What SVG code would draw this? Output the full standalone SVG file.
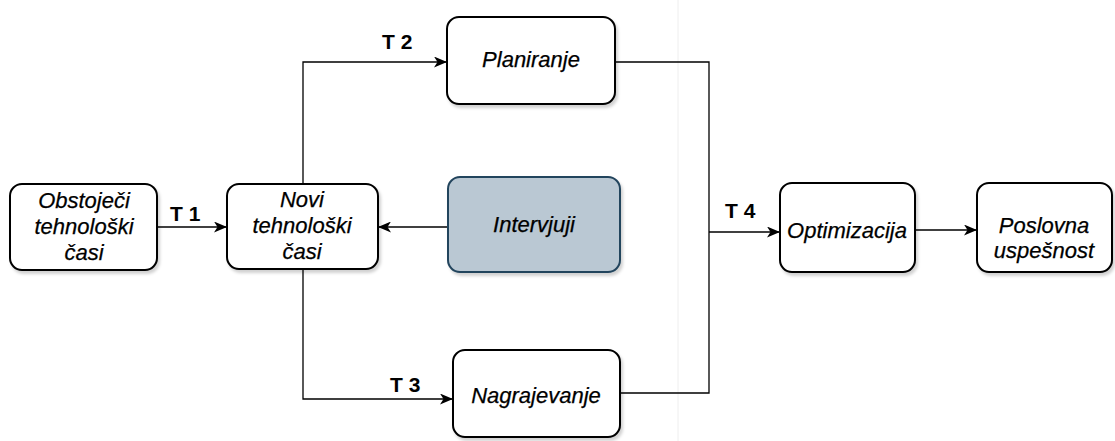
<svg xmlns="http://www.w3.org/2000/svg" width="1115" height="441" viewBox="0 0 1115 441">
<style>
.box{fill:#ffffff;stroke:#000000;stroke-width:2;filter:url(#sh)}
.blue{fill:#bac8d3;stroke:#23445d;stroke-width:2;filter:url(#sh)}
.t{font-family:"Liberation Sans",Arial,sans-serif;font-style:italic;font-size:22px;fill:#000;text-anchor:middle;stroke:#000;stroke-width:0.25}
.lbl{font-family:"Liberation Sans",Arial,sans-serif;font-weight:bold;font-size:21px;fill:#000}
.c{fill:none;stroke:#000;stroke-width:1.3}
</style>
<defs>
<filter id="sh" x="-10%" y="-10%" width="130%" height="130%">
<feDropShadow dx="2" dy="3" stdDeviation="1.5" flood-color="#000" flood-opacity="0.18"/>
</filter>
<marker id="ar" markerWidth="13" markerHeight="11" refX="12" refY="5.5" orient="auto" markerUnits="userSpaceOnUse">
<path d="M0,0 L13,5.5 L0,11 L3.5,5.5 Z" fill="#000"/>
</marker>
</defs>
<rect width="1115" height="441" fill="#ffffff"/>
<line x1="678" y1="0" x2="678" y2="441" stroke="#eeeeee" stroke-width="1"/>
<g id="connectors">
<path class="c" d="M157,227 L226,227" marker-end="url(#ar)"/>
<path class="c" d="M448,227 L379,227" marker-end="url(#ar)"/>
<path class="c" d="M303,184 L303,62 L446,62" marker-end="url(#ar)"/>
<path class="c" d="M303,269 L303,399 L452,399" marker-end="url(#ar)"/>
<path class="c" d="M615,62 L709,62 L709,393 L620,393"/>
<path class="c" d="M709,232 L779,232" marker-end="url(#ar)"/>
<path class="c" d="M915,230 L976,230" marker-end="url(#ar)"/>
<text class="lbl" x="170" y="221">T 1</text>
<text class="lbl" x="382" y="49">T 2</text>
<text class="lbl" x="390" y="392">T 3</text>
<text class="lbl" x="725" y="218">T 4</text>
</g>
<g id="obstojeci">
<rect class="box" x="10" y="184" width="147" height="86" rx="12"/>
<text class="t" x="84" y="208">Obstoječi</text>
<text class="t" x="84" y="234">tehnološki</text>
<text class="t" x="84" y="260">časi</text>
</g>
<g id="novi">
<rect class="box" x="227" y="184" width="151" height="85" rx="12"/>
<text class="t" x="302" y="207">Novi</text>
<text class="t" x="302" y="233">tehnološki</text>
<text class="t" x="302" y="259">časi</text>
</g>
<g id="planiranje">
<rect class="box" x="447" y="17" width="168" height="87" rx="12"/>
<text class="t" x="531" y="67">Planiranje</text>
</g>
<g id="intervjuji">
<rect class="blue" x="448" y="177" width="172" height="95" rx="12"/>
<text class="t" x="534" y="232">Intervjuji</text>
</g>
<g id="nagrajevanje">
<rect class="box" x="453" y="350" width="167" height="87" rx="12"/>
<text class="t" x="536" y="403">Nagrajevanje</text>
</g>
<g id="optimizacija">
<rect class="box" x="780" y="183" width="135" height="89" rx="12"/>
<text class="t" x="847" y="238">Optimizacija</text>
</g>
<g id="poslovna">
<rect class="box" x="977" y="183" width="135" height="89" rx="12"/>
<text class="t" x="1044" y="233">Poslovna</text>
<text class="t" x="1044" y="258">uspešnost</text>
</g>
</svg>
